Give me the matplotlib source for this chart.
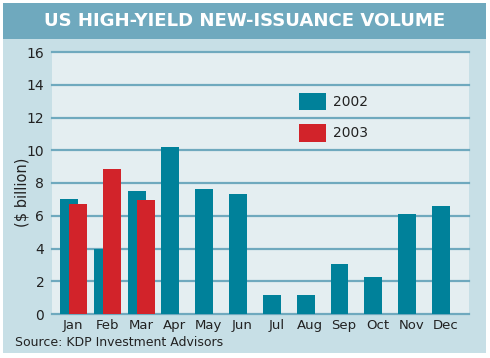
import numpy as np
import matplotlib
matplotlib.use("Agg")
import matplotlib.pyplot as plt
from matplotlib.patches import Rectangle

months = ['Jan', 'Feb', 'Mar', 'Apr', 'May', 'Jun', 'Jul', 'Aug', 'Sep', 'Oct', 'Nov', 'Dec']
vol_2002 = [7.05, 4.0, 7.5, 10.2, 7.65, 7.35, 1.15, 1.15, 3.05, 2.25, 6.1, 6.6]
vol_2003 = [6.7, 8.85, 6.95]
yticks = [0, 2, 4, 6, 8, 10, 12, 14, 16]

W, H = 490, 358
fig = plt.figure(figsize=(W / 100, H / 100), dpi=100)
fig.patch.set_facecolor('white')

# light panel and title band
fig.patches.append(Rectangle((3 / W, 1 - 353 / H), 483 / W, 350 / H,
                             transform=fig.transFigure, facecolor='#c7dfe6', edgecolor='none', zorder=-10))
fig.patches.append(Rectangle((3 / W, 1 - 39 / H), 483 / W, 36 / H,
                             transform=fig.transFigure, facecolor='#6fa9be', edgecolor='none', zorder=-9))
fig.text(245 / W, 1 - 21 / H, 'US HIGH-YIELD NEW-ISSUANCE VOLUME', ha='center', va='center',
         color='white', fontsize=13.1, fontweight='bold')

ax = fig.add_axes([52 / W, 1 - 314 / H, (469 - 52) / W, (314 - 52) / H])
ax.set_facecolor('#e4eef1')

x = np.arange(len(months))
w = 0.53
ax.bar(x - 0.13, vol_2002, width=w, color='#00819a', zorder=3, label='2002')
ax.bar(x[:len(vol_2003)] + 0.14, vol_2003, width=w, color='#d2232a', zorder=4, label='2003')

ax.set_xlim(-0.63, 11.7)
ax.set_ylim(0, 16)
ax.set_yticks(yticks)
ax.set_xticks(x)
ax.set_xticklabels(months)
for y in yticks:
    ax.axhline(y, color='#6fa9be', lw=1.6, zorder=2, clip_on=False)
for s in ax.spines.values():
    s.set_visible(False)
ax.tick_params(length=0, labelsize=10, colors='#222222')
ax.tick_params(axis='y', pad=5.5)
ax.tick_params(axis='x', pad=3.5, labelsize=9.5)

fig.text(22 / W, 1 - 192 / H, '($ billion)', rotation=90, ha='center', va='center',
         fontsize=10.5, color='#222222')
fig.text(15 / W, 1 - 343 / H, 'Source: KDP Investment Advisors', ha='left', va='center',
         fontsize=9, color='#222222')

ax.legend(loc='upper left', bbox_to_anchor=((295 - 52) / (469 - 52) - 0.02, 1 - (80 - 52) / (314 - 52)),
          frameon=False, fontsize=10, handlelength=1.95, handleheight=1.6, labelspacing=0.98,
          handletextpad=0.5, labelcolor='#222222')

plt.savefig('out.png', dpi=100)
